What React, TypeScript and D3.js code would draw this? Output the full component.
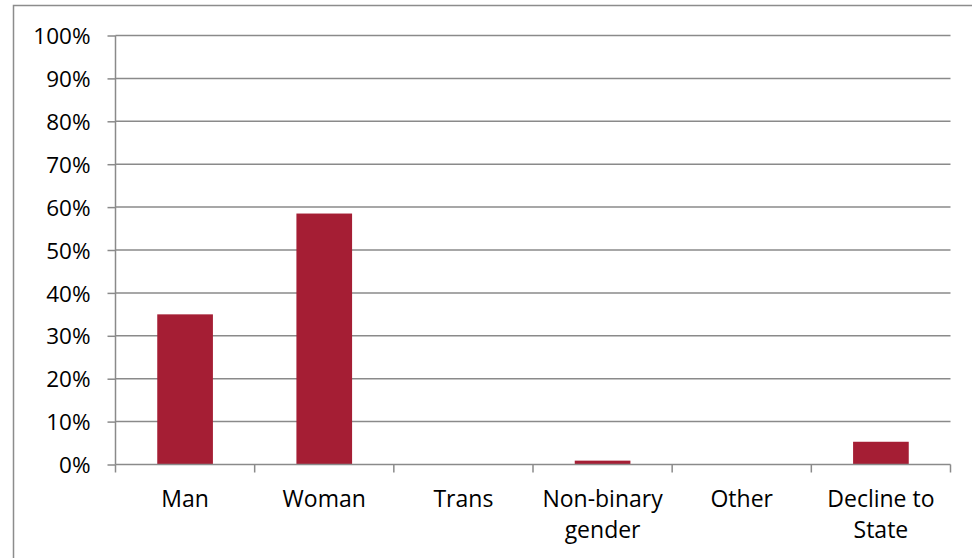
import React, { useRef, useEffect } from "react";
import * as d3 from "d3";

// Data
const categories = ["Man", "Woman", "Trans", "Non-binary gender", "Other", "Decline to State"];
const categoryLines = [["Man"], ["Woman"], ["Trans"], ["Non-binary", "gender"], ["Other"], ["Decline to", "State"]];
const shares = [0.35, 0.585, 0, 0.009, 0, 0.053];
const yTicks = [0, 0.1, 0.2, 0.3, 0.4, 0.5, 0.6, 0.7, 0.8, 0.9, 1];

const W = 972;
const H = 558;
const FONT = "'Open Sans', sans-serif";

const App: React.FC = () => {
  const ref = useRef<SVGSVGElement | null>(null);

  useEffect(() => {
    if (!ref.current) return;
    const svg = d3.select(ref.current);
    svg.selectAll("*").remove();

    const left = 115.5;
    const right = 950.5;
    const top = 35.5;
    const bottom = 464.5;

    // outer frame
    svg
      .append("rect")
      .attr("x", 13.5)
      .attr("y", 5.5)
      .attr("width", W + 20)
      .attr("height", H + 20)
      .attr("fill", "white")
      .attr("stroke", "#8c8c8c")
      .attr("stroke-width", 1.5);

    const x = d3.scaleBand<string>().domain(categories).range([left, right]).padding(0);
    const y = d3.scaleLinear().domain([0, 1]).range([bottom, top]);

    // gridlines
    svg
      .append("g")
      .selectAll("line")
      .data(yTicks.slice(1))
      .join("line")
      .attr("x1", left)
      .attr("x2", right)
      .attr("y1", (d) => y(d))
      .attr("y2", (d) => y(d))
      .attr("stroke", "#8a8a8a")
      .attr("stroke-width", 1.5);

    // bars
    const bw = x.bandwidth();
    svg
      .append("g")
      .selectAll("rect")
      .data(categories)
      .join("rect")
      .attr("x", (d) => x(d)! + bw * 0.3)
      .attr("width", bw * 0.4)
      .attr("y", (_d, i) => y(shares[i]))
      .attr("height", (_d, i) => y(0) - y(shares[i]))
      .attr("fill", "#a51e34");

    // y axis
    const yAxis = d3
      .axisLeft(y)
      .tickValues(yTicks)
      .tickSize(8)
      .tickFormat((d) => d3.format(".0%")(d as number));
    const gy = svg.append("g").attr("transform", `translate(${left},0)`).call(yAxis);
    gy.select(".domain").attr("stroke", "#8a8a8a").attr("stroke-width", 1.5).attr("d", `M0,${top}V${bottom}`);
    gy.selectAll(".tick line").attr("stroke", "#8a8a8a").attr("stroke-width", 1.5);
    gy.selectAll(".tick text")
      .attr("x", -25)
      .attr("dy", "0.36em")
      .attr("fill", "#000")
      .style("font-family", FONT)
      .style("font-size", "22.5px");

    // x axis
    const gx = svg.append("g").attr("transform", `translate(0,${bottom})`);
    gx.append("line")
      .attr("x1", left)
      .attr("x2", right)
      .attr("stroke", "#8a8a8a")
      .attr("stroke-width", 1.5);
    const edges = categories.map((c) => x(c)!).concat([right]);
    gx.selectAll("line.tk")
      .data(edges)
      .join("line")
      .attr("class", "tk")
      .attr("x1", (d) => d)
      .attr("x2", (d) => d)
      .attr("y1", 0)
      .attr("y2", 8)
      .attr("stroke", "#8a8a8a")
      .attr("stroke-width", 1.5);

    const labels = svg
      .append("g")
      .selectAll("text")
      .data(categories)
      .join("text")
      .attr("text-anchor", "middle")
      .attr("fill", "#000")
      .style("font-family", FONT)
      .style("font-size", "23px")
      .attr("x", (d) => x(d)! + bw / 2)
      .attr("y", 507);
    labels
      .selectAll("tspan")
      .data((_d, i) => categoryLines[i])
      .join("tspan")
      .attr("x", function () {
        return (this.parentNode as SVGTextElement).getAttribute("x");
      })
      .attr("dy", (_d, j) => (j === 0 ? 0 : 31))
      .text((d) => d);
  }, []);

  return (
    <svg
      ref={ref}
      width={W}
      height={H}
      style={{ position: "absolute", left: 0, top: 0, background: "white" }}
    />
  );
};

export default App;
